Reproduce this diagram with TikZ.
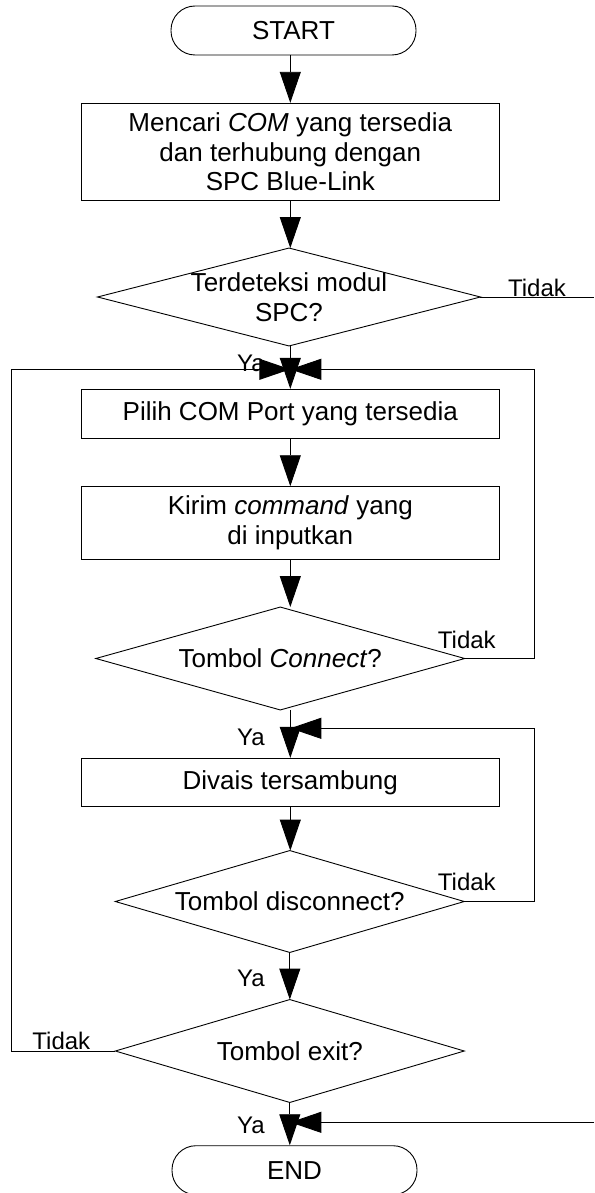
\documentclass[tikz,border=0pt]{standalone}
\usepackage{fontspec}
\setmainfont{Liberation Sans}
\usetikzlibrary{arrows.meta}
\def\boxfont{\fontsize{26}{29.5}\selectfont}

\begin{document}
\begin{tikzpicture}[x=1pt,y=-1pt,line width=0.9pt,
	term/.style={draw,rounded corners=24pt,minimum width=245pt,minimum height=49pt,inner sep=0pt,font=\boxfont},
	proc/.style={draw,minimum width=418pt,inner sep=0pt,align=center,font=\boxfont},
	cond/.style={inner sep=0pt,align=center,font=\boxfont},
	lbl/.style={anchor=base west,inner sep=0pt,font=\fontsize{24}{28}\selectfont},
	arr/.style={-{Triangle[length=31pt,width=21pt]}}]
			%%%%% START %%%%%
			\useasboundingbox (0,0) rectangle (594,1193);
			
			\node[term] (start) at (293.5,30.5) {START};
			\node[proc,minimum height=97pt] (box1) at (290.3,151.8) {Mencari \textit{COM} yang tersedia\\dan terhubung dengan\\SPC Blue-Link};
			\node[cond,minimum width=382pt,minimum height=97pt] (d1) at (289,297) {Terdeteksi modul\\SPC?};
			\node[proc,minimum height=49pt] (box2) at (290.3,413.8) {Pilih COM Port yang tersedia};
			\node[proc,minimum height=72.6pt] (box3) at (290.3,523) {Kirim \textit{command} yang\\di inputkan};
			\node[cond,minimum width=368pt,minimum height=102pt] (d2) at (280.3,658.5) {Tombol \textit{Connect}?};
			\node[proc,minimum height=48.4pt] (box4) at (290.3,782.5) {Divais tersambung};
			\node[cond,minimum width=348pt,minimum height=101pt] (d3) at (289.8,901.5) {Tombol disconnect?};
			\node[cond,minimum width=348pt,minimum height=102pt] (d4) at (289.8,1051) {Tombol exit?};
			\node[term] (end) at (294.5,1170.2) {END};
			
			\foreach \d in {d1,d2,d3,d4}
				\draw (\d.north) -- (\d.east) -- (\d.south) -- (\d.west) -- cycle;
			
			% junctions on the main line
			\coordinate (jn1) at (290.3,369.3);
			\coordinate (jn2) at (290.3,728.3);
			\coordinate (jn3) at (290.3,1122.3);
			\coordinate (off1) at (594,297);
			\coordinate (off2) at (594,1122.3);
			
			\draw[arr] (box1.north |- start.south) -- (box1.north);
			\draw[arr] (box1.south) -- (box1.south |- d1.north);
			\draw (d1.east) -- (off1);
			\draw[arr] (d1.south -| box2.north) -- (box2.north);
			\draw[arr] (box2.south) -- (box3.north);
			\draw[arr] (box3.south) -- (box3.south |- d2.north);
			\draw[arr] (box4.north |- d2.south) -- (box4.north);
			\draw[arr] (box4.south) -- (box4.south |- d3.north);
			\draw[arr] (d3.south) -- (d4.north);
			\draw[arr] (d4.south) -- (d4.south |- end.north);
			
			% loops back
			\draw[arr] (d4.west) -- (11.4,1051) -- (11.4,369.3) -- ([xshift=-33pt]jn1) -- (jn1);
			\draw[arr] (d2.east) -- (534,658.5) -- (534,369.3) -- ([xshift=33pt]jn1) -- (jn1);
			\draw[arr] (d3.east) -- (534,901.5) -- (534,728.3) -- ([xshift=33pt]jn2) -- (jn2);
			\draw[arr] (off2) -- (jn3);
			
			\node[lbl] (t1) at (507.6,296.7) {Tidak};
			\node[lbl] (t2) at (437.5,648.3) {Tidak};
			\node[lbl] (t3) at (437.5,890) {Tidak};
			\node[lbl] (t4) at (32,1049) {Tidak};
			\node[lbl] (y1) at (236.7,371.7) {Ya};
			\node[lbl] (y2) at (236.7,745) {Ya};
			\node[lbl] (y3) at (236.7,986.7) {Ya};
			\node[lbl] (y4) at (236.7,1133.3) {Ya};
			%%%%% END %%%%%
\end{tikzpicture}
\end{document}
